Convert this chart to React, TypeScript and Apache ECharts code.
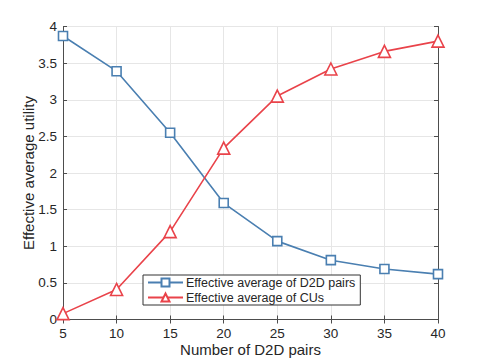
import React, { useEffect, useRef } from "react";
import * as echarts from "echarts";

const xValues = [5, 10, 15, 20, 25, 30, 35, 40];
const d2dValues = [3.87, 3.39, 2.55, 1.59, 1.07, 0.81, 0.69, 0.62];
const cuValues = [0.08, 0.41, 1.2, 2.34, 3.05, 3.42, 3.66, 3.8];
const seriesNames = ["Effective average of D2D pairs", "Effective average of CUs"];

const FONT = "Liberation Sans, Arial, sans-serif";
const BLUE = "#4a7fb1";
const RED = "#e9434a";
const AXIS = "#4d4d4d";
const TEXT = "#262626";

export default function App() {
  const ref = useRef<HTMLDivElement>(null);
  useEffect(() => {
    if (!ref.current) return;
    const chart = echarts.init(ref.current, null, { renderer: "svg" });
    const axisCommon = {
      axisLine: { show: true, lineStyle: { color: AXIS, width: 1 } },
      axisTick: { show: true, inside: true, length: 4, lineStyle: { color: AXIS } },
    };
    chart.setOption({
      animation: false,
      backgroundColor: "#ffffff",
      textStyle: { fontFamily: FONT },
      grid: { left: 63, right: 47, top: 26.5, bottom: 43.5, containLabel: false },
      xAxis: [
        {
          type: "value",
          min: 5,
          max: 40,
          interval: 5,
          position: "bottom",
          name: "Number of D2D pairs",
          nameLocation: "middle",
          nameGap: 22,
          nameMoveOverlap: false,
          nameTextStyle: { fontSize: 15, color: TEXT, fontFamily: FONT },
          axisLabel: { fontSize: 13.5, color: TEXT, fontFamily: FONT, margin: 7 },
          splitLine: { show: true, lineStyle: { color: "#e6e6e6", width: 1 } },
          ...axisCommon,
        },
        {
          type: "value",
          min: 5,
          max: 40,
          interval: 5,
          position: "top",
          axisLabel: { show: false },
          splitLine: { show: false },
          ...axisCommon,
        },
      ],
      yAxis: [
        {
          type: "value",
          min: 0,
          max: 4,
          interval: 0.5,
          position: "left",
          name: "Effective average utility",
          nameLocation: "middle",
          nameGap: 27,
          nameMoveOverlap: false,
          nameTextStyle: { fontSize: 15, color: TEXT, fontFamily: FONT },
          axisLabel: { fontSize: 13.5, color: TEXT, fontFamily: FONT, margin: 6 },
          splitLine: { show: true, lineStyle: { color: "#e6e6e6", width: 1 } },
          ...axisCommon,
        },
        {
          type: "value",
          min: 0,
          max: 4,
          interval: 0.5,
          position: "right",
          axisLabel: { show: false },
          splitLine: { show: false },
          ...axisCommon,
        },
      ],
      legend: {
        orient: "vertical",
        left: 143,
        top: 275,
        backgroundColor: "#ffffff",
        borderColor: "#333333",
        borderWidth: 1,
        borderRadius: 0,
        padding: [1, 5, 1, 4],
        itemGap: 2,
        itemWidth: 35,
        itemHeight: 10,
        textStyle: { fontSize: 12.5, color: TEXT, fontFamily: FONT, padding: [0, 0, 0, -2] },
        data: seriesNames,
      },
      series: [
        {
          name: seriesNames[0],
          type: "line",
          data: xValues.map((x, i) => [x, d2dValues[i]]),
          symbol: "rect",
          symbolSize: 9,
          showAllSymbol: true,
          lineStyle: { color: BLUE, width: 1.6 },
          itemStyle: { color: "#ffffff", borderColor: BLUE, borderWidth: 1.6 },
          z: 3,
        },
        {
          name: seriesNames[1],
          type: "line",
          data: xValues.map((x, i) => [x, cuValues[i]]),
          symbol: "triangle",
          symbolSize: 12,
          showAllSymbol: true,
          lineStyle: { color: RED, width: 1.6 },
          itemStyle: { color: "#ffffff", borderColor: RED, borderWidth: 1.6 },
          z: 3,
        },
      ],
    });
    return () => chart.dispose();
  }, []);
  return <div ref={ref} style={{ width: 485, height: 363, position: "absolute", left: 0, top: 0 }} />;
}
